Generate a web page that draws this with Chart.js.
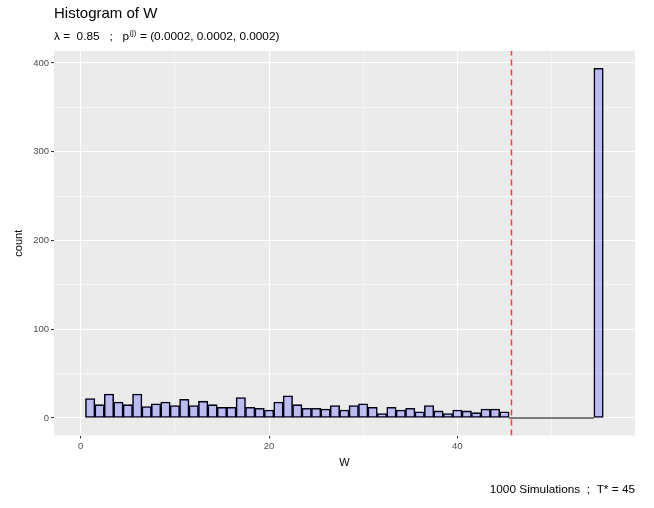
<!DOCTYPE html>
<html>
<head>
<meta charset="utf-8">
<script src="https://cdn.jsdelivr.net/npm/chart.js@4.4.1/dist/chart.umd.min.js"></script>
<style>
html, body { margin: 0; padding: 0; background: #fff; }
#wrap { width: 654px; height: 508px; }
</style>
</head>
<body>
<div id="wrap"><canvas id="hist" width="654" height="508"></canvas></div>
<script>
// counts of simulated W, one bin per integer value starting at 1
const wCounts = [22, 15, 27, 18, 15, 27, 13, 16, 18, 14,
                 21, 14, 19, 15, 12, 12, 23, 12, 11, 9,
                 18, 25, 15, 11, 11, 10, 14, 9, 14, 16,
                 12, 5, 12, 9, 11, 7, 14, 8, 5, 9,
                 8, 6, 10, 10, 7, 0, 0, 0, 0, 0,
                 0, 0, 0, 0, 394];
const firstBin = 1;
const binWidth = 1;
const cutoffW = 45.75;   // dashed red line
const xMajor = [0, 20, 40];
const xMinor = [10, 30, 50];
const yMajor = [0, 100, 200, 300, 400];
const yMinor = [50, 150, 250, 350];
const xRange = [-2.84, 58.87];
const yRange = [-19.7, 413.5];

const FONT = '"Liberation Sans", Arial, Helvetica, sans-serif';

const barPoints = wCounts.map((c, i) => ({ x: firstBin + i * binWidth, y: c }));

// empty bins still get their outline along zero
const zeroEdges = [];
wCounts.forEach((c, i) => {
    if (c === 0) {
        const mid = firstBin + i * binWidth;
        zeroEdges.push({ x: mid - binWidth / 2, y: 0 }, { x: mid + binWidth / 2, y: 0 });
    }
});

const cutoffLine = [{ x: cutoffW, y: yRange[0] }, { x: cutoffW, y: yRange[1] }];

const isMajor = (list) => (ctx) => ctx.tick && list.includes(ctx.tick.value);
const tickList = (major, minor) => major.concat(minor).sort((a, b) => a - b).map(v => ({ value: v }));

// grey panel plus titles and caption
const ggDecor = {
    id: 'ggDecor',
    beforeDraw(chart) {
        const { ctx, chartArea: a } = chart;
        ctx.save();
        ctx.fillStyle = '#EBEBEB';
        ctx.fillRect(a.left, a.top, a.right - a.left, a.bottom - a.top);
        ctx.restore();
    },
    afterDraw(chart) {
        const { ctx, chartArea: a } = chart;
        ctx.save();
        ctx.fillStyle = '#000';
        ctx.textBaseline = 'alphabetic';

        ctx.font = '15px ' + FONT;
        ctx.textAlign = 'left';
        ctx.fillText('Histogram of W', a.left, 18);

        // subtitle with superscript (j)
        ctx.font = '11.8px ' + FONT;
        let x = a.left;
        const part1 = 'λ =  0.85   ;   p';
        ctx.fillText(part1, x, 40);
        x += ctx.measureText(part1).width;
        ctx.font = '7.5px ' + FONT;
        ctx.fillText('(j)', x + 0.5, 35);
        x += ctx.measureText('(j)').width + 1;
        ctx.font = '11.8px ' + FONT;
        ctx.fillText(' = (0.0002, 0.0002, 0.0002)', x, 40);

        // axis titles
        ctx.font = '11px ' + FONT;
        ctx.textAlign = 'center';
        ctx.fillText('W', (a.left + a.right) / 2, 466);
        ctx.save();
        ctx.translate(22, (a.top + a.bottom) / 2);
        ctx.rotate(-Math.PI / 2);
        ctx.fillText('count', 0, 0);
        ctx.restore();

        ctx.font = '11.8px ' + FONT;
        ctx.textAlign = 'right';
        ctx.fillText('1000 Simulations  ;  T* = 45', a.right, 493);
        ctx.restore();
    }
};

new Chart(document.getElementById('hist'), {
    type: 'bar',
    data: {
        datasets: [
            {
                type: 'line',
                data: cutoffLine,
                borderColor: '#FF3B3B',
                borderWidth: 1.5,
                borderDash: [6, 4],
                pointRadius: 0,
                order: 1
            },
            {
                type: 'line',
                data: zeroEdges,
                borderColor: '#000',
                borderWidth: 1,
                pointRadius: 0,
                order: 2
            },
            {
                type: 'bar',
                data: barPoints,
                backgroundColor: 'rgba(0, 0, 255, 0.2)',
                borderColor: '#000',
                borderWidth: 0.9,
                borderSkipped: false,
                barPercentage: 1,
                categoryPercentage: 1,
                order: 3
            }
        ]
    },
    options: {
        responsive: false,
        animation: false,
        layout: { padding: { top: 51, right: 19, left: 0, bottom: 0 } },
        plugins: { legend: { display: false }, tooltip: { enabled: false } },
        scales: {
            x: {
                type: 'linear',
                offset: false,
                min: xRange[0],
                max: xRange[1],
                afterBuildTicks: (s) => { s.ticks = tickList(xMajor, xMinor); },
                afterFit: (s) => { s.height = 72.5; },
                ticks: {
                    autoSkip: false,
                    maxRotation: 0,
                    padding: 2,
                    color: '#4D4D4D',
                    font: { family: FONT, size: 9.5 },
                    callback: (v) => xMajor.includes(v) ? String(v) : ''
                },
                grid: {
                    offset: false,
                    color: '#FFFFFF',
                    lineWidth: (c) => isMajor(xMajor)(c) ? 1.07 : 0.53,
                    tickColor: (c) => isMajor(xMajor)(c) ? '#333333' : 'rgba(0,0,0,0)',
                    tickLength: 3,
                    tickWidth: 1.07
                },
                border: { display: false }
            },
            y: {
                type: 'linear',
                min: yRange[0],
                max: yRange[1],
                afterBuildTicks: (s) => { s.ticks = tickList(yMajor, yMinor); },
                afterFit: (s) => { s.width = 54; },
                ticks: {
                    autoSkip: false,
                    padding: 2,
                    color: '#4D4D4D',
                    font: { family: FONT, size: 9.5 },
                    callback: (v) => yMajor.includes(v) ? String(v) : ''
                },
                grid: {
                    color: '#FFFFFF',
                    lineWidth: (c) => isMajor(yMajor)(c) ? 1.07 : 0.53,
                    tickColor: (c) => isMajor(yMajor)(c) ? '#333333' : 'rgba(0,0,0,0)',
                    tickLength: 3,
                    tickWidth: 1.07
                },
                border: { display: false }
            }
        }
    },
    plugins: [ggDecor]
});
</script>
</body>
</html>
